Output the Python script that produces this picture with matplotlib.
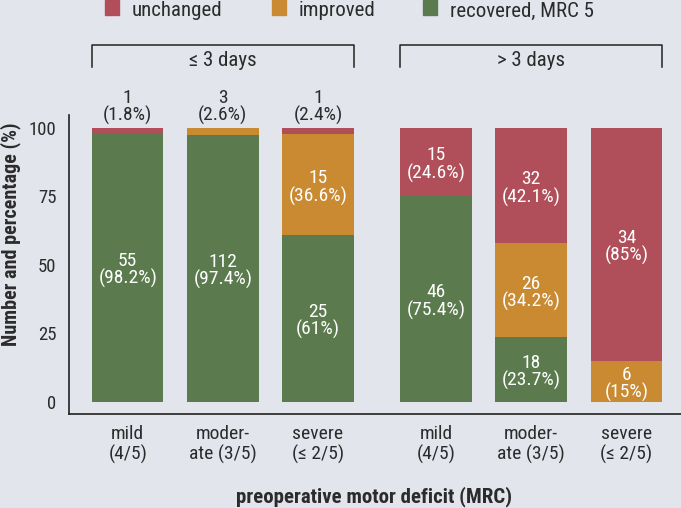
import matplotlib
matplotlib.use('Agg')
import matplotlib.pyplot as plt
from matplotlib.patches import Rectangle

plt.rcParams['font.family'] = ['Roboto Condensed', 'DejaVu Sans']

# data
categories = ['mild\n(4/5)', 'moder-\nate (3/5)', 'severe\n(≤ 2/5)'] * 2
groups = ['≤ 3 days', '> 3 days']
recovered_n = [55, 112, 25, 46, 18, 0]
recovered_pct = [98.2, 97.4, 61.0, 75.4, 23.7, 0.0]
improved_n = [0, 3, 15, 0, 26, 6]
improved_pct = [0.0, 2.6, 36.6, 0.0, 34.2, 15.0]
unchanged_n = [1, 0, 1, 15, 32, 34]
unchanged_pct = [1.8, 0.0, 2.4, 24.6, 42.1, 85.0]
positions = [0, 1, 2, 3.24, 4.24, 5.24]

bg = '#E2E5EC'
c_red = '#B04F5A'
c_orange = '#C98A32'
c_green = '#5B7B4E'
txt = '#2b2b2b'
fs = 14

fig = plt.figure(figsize=(6.81, 5.08), dpi=100, facecolor=bg)
ax = fig.add_axes([69/681, (508-414)/508, (681-69)/681, (414-115)/508])
ax.set_facecolor(bg)

w = 0.75
series = [(recovered_n, recovered_pct, c_green),
          (improved_n, improved_pct, c_orange),
          (unchanged_n, unchanged_pct, c_red)]
bottom = [0.0] * 6
for ns, pcts, col in series:
    ax.bar(positions, pcts, width=w, bottom=bottom, color=col, edgecolor='none')
    for i, (n, p) in enumerate(zip(ns, pcts)):
        if n == 0:
            continue
        label = f'{n}\n({p:g}%)'
        if p < 5:
            # tiny segments get their label above the bar
            ax.text(positions[i], 101.0, label, ha='center', va='bottom',
                    fontsize=fs, color=txt, linespacing=0.95)
        else:
            ax.text(positions[i], bottom[i] + p / 2 - 1, label, ha='center', va='center',
                    fontsize=fs, color='white', linespacing=0.95)
    bottom = [b + p for b, p in zip(bottom, pcts)]

ax.set_xlim(-0.617, 5.815)
ax.set_ylim(-4.4, 104.7)
ax.set_yticks([0, 25, 50, 75, 100])
ax.set_xticks(positions)
ax.set_xticklabels(categories, linespacing=1.1)
ax.tick_params(length=0, labelsize=fs, colors=txt)
ax.tick_params(axis='x', pad=8)
ax.tick_params(axis='y', pad=9, labelsize=13.5)
for s in ['top', 'right']:
    ax.spines[s].set_visible(False)
for s in ['left', 'bottom']:
    ax.spines[s].set_color('#222222')
    ax.spines[s].set_linewidth(1.2)

fig.text(11/681, 1 - 234/508, 'Number and percentage (%)', rotation=90, ha='center', va='center',
         fontsize=14.5, fontweight='bold', color=txt)
fig.text(374/681, 1 - 497/508, 'preoperative motor deficit (MRC)', ha='center', va='center',
         fontsize=15, fontweight='bold', color=txt)

# group brackets
y_top, y_bot = 130.3, 122.3
for g, (a, b) in zip(groups, [(0, 2), (3, 5)]):
    x0 = positions[a] - w / 2
    x1 = positions[b] + w / 2
    ax.plot([x0, x0, x1, x1], [y_bot, y_top, y_top, y_bot], color='#222222', lw=1.1,
            clip_on=False)
    ax.text((x0 + x1) / 2, 124.6, g, ha='center', va='center', fontsize=15, color=txt)

# legend
legend_items = [('unchanged', c_red, 105), ('improved', c_orange, 272), ('recovered, MRC 5', c_green, 423)]
for lab, col, xp in legend_items:
    fig.patches.append(Rectangle((xp / 681, 1 - 15 / 508), 14 / 681, 15 / 508,
                                 transform=fig.transFigure, color=col))
    fig.text((xp + 27) / 681, 1 - 11 / 508, lab, ha='left', va='center', fontsize=15, color=txt)

fig.savefig('out.png', dpi=100, facecolor=bg)
